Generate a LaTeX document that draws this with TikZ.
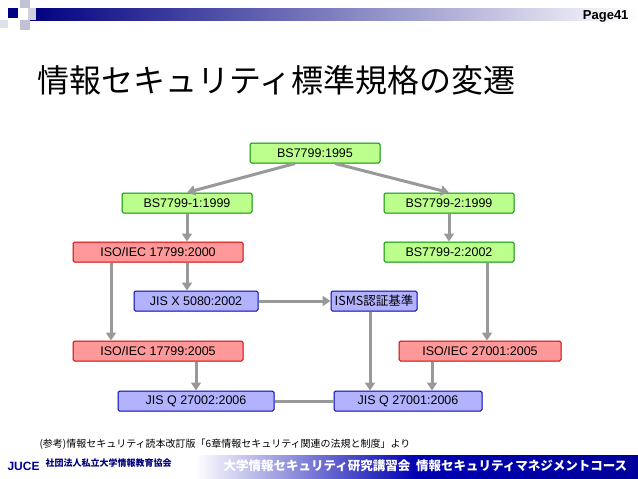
\documentclass[tikz,border=0pt]{standalone}
\usepackage{fontspec}
\setmainfont{Liberation Sans}
\newfontfamily\cjk{Noto Sans CJK JP}
\usetikzlibrary{arrows.meta}
\begin{document}
\begin{tikzpicture}[x=1pt,y=-1pt,
 bx/.style={draw,line width=1pt,rounded corners=1.5pt,minimum height=20pt,font=\fontsize{12.5}{13}\selectfont,inner sep=1pt},
 grn/.style={bx,draw=green!55!black,fill=green!45!lime!45},
 red/.style={bx,draw=red!80!black,fill=red!40!white},
 blu/.style={bx,draw=blue!70!black,fill=blue!30!white},
 ar/.style={line width=3pt,draw=gray!80,-{Triangle[length=8pt,width=10pt]}},
 ln/.style={line width=3pt,draw=gray!80}]
\useasboundingbox (0,0) rectangle (638,479);
\fill[white] (0,0) rectangle (638,479);
% header
\shade[left color=blue!50!black,right color=white] (30,8) rectangle (638,20);
\fill[blue!50!black] (8,8) rectangle (18,18);
\fill[blue!20!gray!40] (20,0) rectangle (30,8);
\fill[blue!20!gray!40] (20,20) rectangle (30,30);
\fill[blue!20!gray!30] (28,8) rectangle (36,20);
\fill[blue!20!gray!20] (0,20) rectangle (8,28);
\node[anchor=east,font=\bfseries\fontsize{13}{14}\selectfont] (pg) at (632,16) {Page41};
\node[anchor=west,font=\cjk\fontsize{32}{34}\selectfont] (tt) at (34,80) {情報セキュリティ標準規格の変遷};
% nodes
\node[grn,minimum width=130pt] (a) at (315,153) {BS7799:1995};
\node[grn,minimum width=130pt] (b1) at (187,203) {BS7799-1:1999};
\node[grn,minimum width=130pt] (b2) at (449,203) {BS7799-2:1999};
\node[red,minimum width=170pt] (c1) at (158,252) {ISO/IEC 17799:2000};
\node[grn,minimum width=130pt] (c2) at (449,252) {BS7799-2:2002};
\node[blu,minimum width=124pt] (d1) at (196,301) {JIS X 5080:2002};
\node[blu,minimum width=86pt] (d2) at (374,301) {\cjk ISMS認証基準};
\node[red,minimum width=170pt] (e1) at (158,351) {ISO/IEC 17799:2005};
\node[red,minimum width=162pt] (e2) at (480,351) {ISO/IEC 27001:2005};
\node[blu,minimum width=156pt] (f1) at (196,401) {JIS Q 27002:2006};
\node[blu,minimum width=148pt] (f2) at (408,401) {JIS Q 27001:2006};
% connectors
\draw[ar] ([xshift=-20pt]a.south) -- (b1.north);
\draw[ar] ([xshift=20pt]a.south) -- (b2.north);
\draw[ar] (b1.south) -- (b1.south|-c1.north);
\draw[ar] (b2.south) -- (c2.north);
\draw[ar] (b1.south|-c1.south) -- (b1.south|-d1.north);
\draw[ar] ([xshift=-47pt]c1.south) -- ([xshift=-47pt]e1.north);
\draw[ar] (d1.east) -- (d2.west);
\draw[ar] ([xshift=38pt]c2.south) -- ([xshift=7pt]e2.north);
\draw[ar] ([xshift=-4pt]d2.south) -- ([xshift=-38pt]f2.north);
\draw[ar] (e1.south-|f1.north) -- (f1.north);
\draw[ar] ([xshift=-48pt]e2.south) -- ([xshift=24pt]f2.north);
\draw[ln] (f1.east) -- (f2.west);
% footer
\node[anchor=west,font=\cjk\fontsize{10}{11}\selectfont] (ref) at (36,444) {(参考)情報セキュリティ読本改訂版「6章情報セキュリティ関連の法規と制度」より};
\shade[left color=white,right color=blue!60!black,middle color=blue!70!black] (195,455) rectangle (638,479);
\node[anchor=west,font=\bfseries\fontsize{12}{13}\selectfont,text=blue!60!black] (ju) at (4,466) {JUCE};
\node[anchor=west,font=\cjk\bfseries\fontsize{9}{10}\selectfont,text=blue!50!black] (as) at (42,463) {社団法人私立大学情報教育協会};
\node[anchor=west,font=\cjk\bfseries\itshape\fontsize{12.5}{14}\selectfont,text=white] (ft) at (220,466) {大学情報セキュリティ研究講習会\ \ 情報セキュリティマネジメントコース};
\end{tikzpicture}
\end{document}
